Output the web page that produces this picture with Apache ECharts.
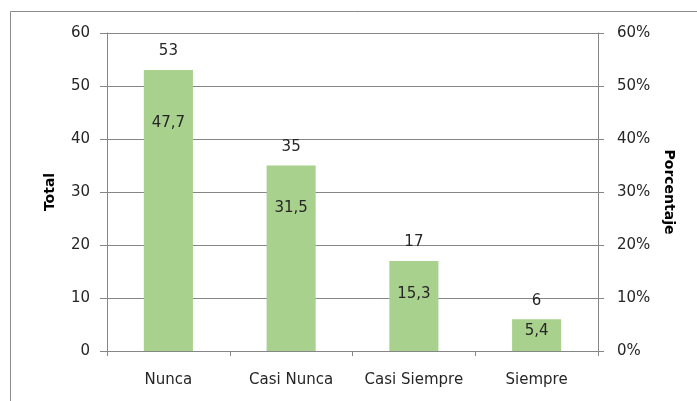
<!DOCTYPE html>
<html>
<head>
<meta charset="utf-8">
<script src="https://cdn.jsdelivr.net/npm/echarts@6/dist/echarts.min.js"></script>
<style>
html,body{margin:0;padding:0;background:#fff;}
#c{width:697px;height:401px;}
</style>
</head>
<body>
<div id="c"></div>
<script>
const categories = ['Nunca', 'Casi Nunca', 'Casi Siempre', 'Siempre'];
const totals = [53, 35, 17, 6];
const percentages = [47.7, 31.5, 15.3, 5.4];
const leftTicks = [0, 60, 10];
const rightTicks = [0, 60, 10];

const FONT = 'DejaVu Sans';
const GRAY = '#868686';
const TXT = '#262626';

const chart = echarts.init(document.getElementById('c'), null, {renderer: 'canvas'});

const pctData = percentages.map((v, i) =>
  i === percentages.length - 1 ? {value: v, label: {distance: 1}} : v);

chart.setOption({
  animation: false,
  backgroundColor: '#fff',
  textStyle: {fontFamily: FONT},
  graphic: [{
    type: 'rect',
    shape: {x: 10.5, y: 11.5, width: 720, height: 420},
    style: {fill: 'none', stroke: '#8c8c8c', lineWidth: 1},
    silent: true, z: -10
  }],
  grid: {left: 107, right: 99, top: 33, bottom: 50, containLabel: false},
  xAxis: {
    type: 'category',
    data: categories,
    boundaryGap: true,
    axisLine: {show: true, lineStyle: {color: GRAY, width: 1}},
    axisTick: {show: true, interval: 0, length: 5, lineStyle: {color: GRAY}},
    axisLabel: {interval: 0, fontFamily: FONT, fontSize: 15, color: TXT, margin: 22}
  },
  yAxis: [{
    type: 'value',
    min: leftTicks[0], max: leftTicks[1], interval: leftTicks[2],
    name: 'Total',
    nameLocation: 'middle',
    nameGap: 50,
    nameTextStyle: {fontFamily: FONT, fontSize: 14, fontWeight: 'bold', color: '#000'},
    axisLine: {show: true, lineStyle: {color: GRAY, width: 1}},
    axisTick: {show: true, length: 7, lineStyle: {color: GRAY}},
    axisLabel: {fontFamily: FONT, fontSize: 15, color: TXT, margin: 17},
    splitLine: {show: true, lineStyle: {color: GRAY, width: 1}}
  }, {
    type: 'value',
    position: 'right',
    min: rightTicks[0], max: rightTicks[1], interval: rightTicks[2],
    name: 'Porcentaje',
    nameLocation: 'middle',
    nameGap: 64,
    nameRotate: -90,
    nameTextStyle: {fontFamily: FONT, fontSize: 14, fontWeight: 'bold', color: '#000'},
    axisLine: {show: true, lineStyle: {color: GRAY, width: 1}},
    axisTick: {show: true, length: 6, lineStyle: {color: GRAY}},
    axisLabel: {fontFamily: FONT, fontSize: 15, color: TXT, margin: 19, formatter: '{value}%'},
    splitLine: {show: false}
  }],
  series: [{
    name: 'Total',
    type: 'bar',
    yAxisIndex: 0,
    data: totals,
    barWidth: '40%',
    barGap: '-100%',
    itemStyle: {color: '#a9d18e'},
    label: {show: true, position: 'top', distance: 11, fontFamily: FONT, fontSize: 15, color: TXT},
    z: 2
  }, {
    name: 'Porcentaje',
    type: 'bar',
    yAxisIndex: 1,
    data: pctData,
    barWidth: '40%',
    barGap: '-100%',
    itemStyle: {color: 'rgba(0,0,0,0)'},
    label: {
      show: true, position: 'insideTop', distance: 17,
      fontFamily: FONT, fontSize: 15, color: TXT,
      formatter: p => String(p.value).replace('.', ',')
    },
    z: 3
  }]
});
</script>
</body>
</html>
